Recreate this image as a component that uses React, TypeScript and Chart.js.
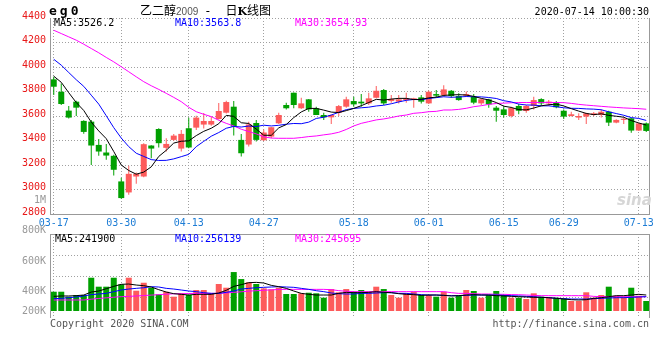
import React, { useEffect, useRef } from 'react';
import { Chart, registerables } from 'chart.js';

Chart.register(...registerables);

const DATES = [
  '03-17','03-18','03-19','03-20','03-23','03-24','03-25','03-26','03-27',
  '03-30','03-31','04-01','04-02','04-03',
  '04-07','04-08','04-09','04-10',
  '04-13','04-14','04-15','04-16','04-17',
  '04-20','04-21','04-22','04-23','04-24',
  '04-27','04-28','04-29','04-30',
  '05-06','05-07','05-08',
  '05-11','05-12','05-13','05-14','05-15',
  '05-18','05-19','05-20','05-21','05-22',
  '05-25','05-26','05-27','05-28','05-29',
  '06-01','06-02','06-03','06-04','06-05',
  '06-08','06-09','06-10','06-11','06-12',
  '06-15','06-16','06-17','06-18','06-19',
  '06-22','06-23','06-24',
  '06-29','06-30','07-01','07-02','07-03',
  '07-06','07-07','07-08','07-09','07-10',
  '07-13','07-14',
];
const TICK_DATES = ['03-17','03-30','04-13','04-27','05-18','06-01','06-15','06-29','07-13'];

const OPEN = [3899,3798,3644,3717,3560,3554,3364,3302,3275,3066, 2976,3106,3106,3359,3494,3340,3405,3334,3500,3505, 3530,3530,3575,3627,3676,3405,3367,3543,3402,3432, 3540,3690,3790,3663,3736,3663,3608,3589,3627,3676, 3722,3717,3703,3749,3812,3722,3717,3730,3736,3752, 3703,3779,3771,3806,3763,3766,3757,3703,3736,3668, 3654,3600,3682,3641,3682,3738,3703,3709,3643,3600, 3587,3595,3608,3608,3635,3546,3568,3581,3481,3540];
const HIGH = [3920,3866,3682,3725,3565,3568,3413,3372,3283,3096, 3193,3139,3378,3362,3500,3418,3454,3486,3585,3603, 3625,3595,3707,3725,3722,3454,3554,3568,3490,3510, 3627,3709,3792,3750,3738,3675,3627,3612,3690,3757, 3757,3779,3790,3844,3820,3771,3771,3790,3749,3771, 3806,3812,3852,3812,3785,3801,3779,3740,3740,3682, 3679,3676,3700,3690,3757,3744,3730,3722,3654,3635, 3622,3627,3633,3654,3643,3573,3587,3583,3545,3546];
const LOW = [3771,3690,3580,3600,3456,3201,3275,3242,3115,2925, 2957,3047,3100,3255,3343,3310,3397,3310,3337,3486, 3497,3520,3570,3620,3440,3269,3351,3391,3395,3418, 3535,3654,3663,3658,3635,3608,3567,3535,3600,3668, 3676,3676,3690,3744,3690,3709,3703,3709,3668,3703, 3698,3752,3757,3749,3725,3757,3695,3690,3668,3554, 3587,3587,3614,3627,3654,3685,3682,3663,3576,3595, 3567,3535,3600,3587,3519,3540,3535,3464,3478,3470];
const CLOSE = [3839,3698,3587,3668,3470,3359,3310,3277,3161,2930, 3128,3128,3370,3334,3378,3372,3440,3454,3343,3587, 3559,3559,3641,3714,3513,3296,3531,3405,3465,3508, 3608,3663,3690,3703,3654,3608,3589,3608,3681,3736, 3695,3703,3744,3806,3703,3738,3736,3744,3744,3717, 3798,3766,3817,3763,3730,3779,3709,3736,3695,3643, 3608,3665,3643,3682,3730,3703,3717,3671,3595,3614, 3600,3622,3622,3635,3546,3568,3578,3481,3540,3478];

const MA5 = [3925,3875,3790,3710,3645,3550,3478,3415,3310,3200, 3155,3125,3142,3185,3270,3320,3379,3394,3397,3440, 3475,3500,3537,3605,3597,3545,3539,3493,3443,3442, 3503,3530,3587,3633,3662,3662,3648,3632,3628,3644, 3662,3684,3710,3736,3730,3738,3744,3744,3734,3736, 3748,3754,3768,3772,3774,3771,3760,3744,3731,3710, 3680,3670,3652,3650,3665,3683,3692,3697,3682,3660, 3640,3621,3611,3618,3605,3598,3590,3563,3543,3526];
const MA10 = [4063,4015,3955,3896,3842,3770,3697,3602,3505,3420, 3350,3296,3270,3244,3237,3238,3250,3268,3287,3350, 3393,3435,3465,3500,3515,3510,3518,3514,3525,3519, 3524,3533,3539,3537,3550,3580,3590,3608,3630,3652, 3662,3667,3672,3682,3688,3700,3715,3728,3735,3733, 3743,3750,3757,3753,3755,3759,3757,3756,3751,3743, 3725,3715,3697,3690,3689,3683,3683,3676,3667,3663, 3662,3658,3656,3651,3634,3620,3606,3587,3580,3564];
const MA30 = [4300,4273,4246,4219,4186,4151,4116,4078,4042,4002, 3961,3920,3880,3847,3817,3785,3752,3717,3671,3635, 3614,3595,3565,3540,3519,3492,3473,3454,3430,3420, 3418,3418,3418,3424,3432,3437,3446,3454,3467,3490, 3519,3540,3554,3568,3576,3587,3600,3608,3622,3627, 3635,3638,3649,3649,3654,3663,3676,3684,3695,3702, 3705,3708,3710,3710,3710,3711,3711,3710,3709,3703, 3695,3689,3684,3679,3674,3670,3666,3663,3660,3655];

// volumes in thousands of lots
const VOLUME = [303,303,225,251,251,523,382,382,523,419, 523,319,444,366,262,303,225,278,251,330, 330,278,424,366,612,502,451,424,356,341, 366,267,267,278,287,278,209,345,294,345, 303,330,303,382,345,251,209,278,303,251, 251,225,303,209,240,330,314,209,251,314, 251,209,209,188,278,225,209,209,199,157, 157,294,209,251,382,240,225,366,240,157];
const VOL_MA5 = [230,236,236,241,251,298,314,350,387,419, 424,408,398,377,335,298,272,262,251,262, 262,262,283,325,387,414,445,450,440,403, 382,356,314,277,262,251,251,251,277,293, 288,288,293,304,293,288,272,262,257,246, 251,251,246,236,241,251,257,251,251,241, 236,230,225,220,215,215,209,199,188,178, 173,178,199,209,225,241,241,251,262,251];
const VOL_MA10 = [194,199,209,220,236,257,267,277,304,330, 345,356,366,382,377,356,345,330,314,304, 288,277,277,293,314,345,356,366,372,377, 382,377,372,356,340,319,304,283,272,267, 267,277,277,283,288,288,277,277,267,257, 251,251,246,241,241,246,251,251,251,251, 246,241,236,230,225,215,209,199,194,188, 188,188,194,199,204,209,209,215,220,225];
const VOL_MA30 = [173,173,173,173,173,186,197,207,217,225, 230,236,243,250,257,264,270,272,275,277, 277,277,277,284,293,302,312,319,326,332, 338,340,340,340,340,340,340,335,320,310, 304,304,304,304,304,304,304,304,304,304, 304,304,304,288,277,277,272,267,267,262, 262,258,256,251,246,241,241,241,241,241, 241,241,230,225,225,225,225,225,225,225];

const PRICE_TICKS = [2800, 3000, 3200, 3400, 3600, 3800, 4000, 4200, 4400];
const VOL_LABELS = ['200K', '400K', '600K', '800K', '1M'];
const VOL_LABEL_VALUES = [0, 314, 786, 1273, 1744];
const VOL_GRID_VALUES = [220, 550, 872];

const UP = '#fd5b5b';
const DOWN = '#00a000';
const GRID = '#a0a0a0';
const FRAME = '#999999';
const MONO = '"DejaVu Sans Mono", monospace';
const CJK = '"Noto Sans CJK SC", sans-serif';

const framePlugin = {
  id: 'frame',
  afterDraw(chart: any, _args: any, opts: any) {
    const { ctx, chartArea: a } = chart;
    const sides: string[] = opts.sides || [];
    ctx.save();
    ctx.strokeStyle = FRAME;
    ctx.lineWidth = 1;
    ctx.setLineDash([]);
    ctx.beginPath();
    const L = Math.round(a.left) + 0.5;
    const R = Math.round(a.right) - 0.5;
    const T = Math.round(a.top) + 0.5;
    const B = Math.round(a.bottom) + 0.5;
    if (sides.includes('left')) { ctx.moveTo(L, T - 0.5); ctx.lineTo(L, B); }
    if (sides.includes('right')) { ctx.moveTo(R, T - 0.5); ctx.lineTo(R, B); }
    if (sides.includes('top')) { ctx.moveTo(L, T); ctx.lineTo(R, T); }
    if (sides.includes('bottom')) { ctx.moveTo(L, B); ctx.lineTo(R + 0.5, B); }
    ctx.stroke();
    ctx.restore();
  },
};

const lineDs = (data: number[], color: string, order: number) => ({
  type: 'line' as const,
  data,
  borderColor: color,
  borderWidth: 1,
  pointRadius: 0,
  fill: false,
  tension: 0,
  order,
});

const filterDateTicks = (s: any) => {
  s.ticks = s.ticks.filter((t: any) => TICK_DATES.includes(DATES[t.value]));
};

export default function App() {
  const mainRef = useRef<HTMLCanvasElement>(null);
  const volRef = useRef<HTMLCanvasElement>(null);

  useEffect(() => {
    const colors = CLOSE.map((c, i) => (c >= OPEN[i] ? UP : DOWN));
    const main = new Chart(mainRef.current as HTMLCanvasElement, {
      type: 'bar',
      data: {
        labels: DATES,
        datasets: [
          lineDs(MA5, '#000000', 0),
          lineDs(MA10, '#0000ff', 1),
          lineDs(MA30, '#ff00ff', 2),
          {
            type: 'bar',
            data: OPEN.map((o, i) => [o, CLOSE[i]]),
            backgroundColor: colors,
            barThickness: 6,
            minBarLength: 1,
            grouped: false,
            inflateAmount: 0,
            order: 3,
          } as any,
          {
            type: 'bar',
            data: LOW.map((l, i) => [l, HIGH[i]]),
            backgroundColor: colors,
            barThickness: 1,
            grouped: false,
            inflateAmount: 0,
            order: 4,
          } as any,
        ],
      },
      options: {
        animation: false,
        responsive: false,
        events: [],
        layout: { padding: { top: 18, right: 10, left: 0, bottom: 0 } },
        plugins: {
          legend: { display: false },
          tooltip: { enabled: false },
          frame: { sides: ['left', 'right', 'bottom'] },
        } as any,
        scales: {
          x: {
            type: 'category',
            offset: true,
            grid: { offset: false, color: GRID, drawTicks: false },
            border: { display: false, dash: [1, 2] },
            ticks: { autoSkip: false, maxRotation: 0, color: '#1c7cd5', font: { family: MONO, size: 10 }, padding: 3 },
            afterBuildTicks: filterDateTicks,
            afterFit: (s: any) => { s.height = 22; s.paddingLeft = 0; s.paddingRight = 0; },
          },
          y: {
            type: 'linear',
            min: 2800,
            max: 4400,
            grid: { color: GRID, drawTicks: false },
            border: { display: false, dash: [1, 2] },
            ticks: {
              color: '#e81818',
              font: { family: MONO, size: 10 },
              padding: 4,
              labelOffset: -2,
              autoSkip: false,
              callback: (v: any) => String(v),
            },
            afterBuildTicks: (s: any) => { s.ticks = PRICE_TICKS.map((v) => ({ value: v })); },
            afterFit: (s: any) => { s.width = 50; s.paddingTop = 0; s.paddingBottom = 0; },
          },
        },
      } as any,
      plugins: [framePlugin],
    });

    const vol = new Chart(volRef.current as HTMLCanvasElement, {
      type: 'bar',
      data: {
        labels: DATES,
        datasets: [
          lineDs(VOL_MA5, '#000000', 0),
          lineDs(VOL_MA10, '#0000ff', 1),
          lineDs(VOL_MA30, '#ff00ff', 2),
          {
            type: 'bar',
            data: VOLUME,
            backgroundColor: colors,
            barThickness: 6,
            grouped: false,
            inflateAmount: 0,
            order: 3,
          } as any,
        ],
      },
      options: {
        animation: false,
        responsive: false,
        events: [],
        layout: { padding: { top: 44, right: 10, left: 0, bottom: 0 } },
        plugins: {
          legend: { display: false },
          tooltip: { enabled: false },
          frame: { sides: ['left', 'right', 'top', 'bottom'] },
        } as any,
        scales: {
          x: {
            type: 'category',
            offset: true,
            grid: { offset: false, color: GRID, drawTicks: false },
            border: { display: false, dash: [1, 2] },
            ticks: { display: false, autoSkip: false },
            afterBuildTicks: filterDateTicks,
            afterFit: (s: any) => { s.height = 0; s.paddingLeft = 0; s.paddingRight = 0; },
          },
          y: {
            type: 'linear',
            position: 'left',
            weight: 0,
            min: -110,
            max: 1210,
            grid: { color: GRID, drawTicks: false },
            border: { display: false, dash: [1, 2] },
            ticks: { display: false },
            afterBuildTicks: (s: any) => { s.ticks = VOL_GRID_VALUES.map((v) => ({ value: v })); },
            afterFit: (s: any) => { s.width = 0; s.paddingTop = 0; s.paddingBottom = 0; },
          },
          yl: {
            type: 'linear',
            position: 'left',
            weight: 1,
            min: -110,
            max: 1210,
            grid: { display: false, drawTicks: false },
            border: { display: false },
            ticks: {
              color: '#999999',
              font: { family: MONO, size: 10 },
              padding: 4,
              autoSkip: false,
              callback: (_v: any, i: number) => VOL_LABELS[i],
            },
            afterBuildTicks: (s: any) => { s.ticks = VOL_LABEL_VALUES.map((v) => ({ value: v })); },
            afterFit: (s: any) => { s.width = 50; s.paddingTop = 0; s.paddingBottom = 0; },
          },
        },
      } as any,
      plugins: [framePlugin],
    });

    return () => {
      main.destroy();
      vol.destroy();
    };
  }, []);

  const t = (style: React.CSSProperties): React.CSSProperties => ({
    position: 'absolute',
    whiteSpace: 'nowrap',
    fontFamily: MONO,
    fontSize: 10,
    lineHeight: '12px',
    color: '#000',
    ...style,
  });

  return (
    <div style={{ position: 'fixed', left: 0, top: 0, width: 660, height: 360, background: '#fff', overflow: 'hidden' }}>
      <canvas ref={mainRef} width={660} height={236} style={{ position: 'absolute', left: 0, top: 0, width: 660, height: 236 }} />
      <canvas ref={volRef} width={660} height={128} style={{ position: 'absolute', left: 0, top: 190, width: 660, height: 128 }} />

      <div style={t({ left: 49, top: 4, fontSize: 13, fontWeight: 'bold', letterSpacing: 3, lineHeight: '14px' })}>eg0</div>
      <div style={t({ left: 140, top: 2, lineHeight: '16px', fontFamily: CJK, fontSize: 12 })}>
        <span>乙二醇</span>
        <span style={{ fontFamily: '"Liberation Sans", sans-serif', fontSize: 10, color: '#555' }}>2009</span>
        <span style={{ fontFamily: MONO, fontSize: 12, marginLeft: 6, marginRight: 14 }}>-</span>
        <span>日</span><span style={{ fontFamily: '"DejaVu Serif", serif', fontWeight: 'bold', fontSize: 11 }}>K</span><span>线图</span>
      </div>
      <div style={t({ right: 11, top: 6 })}>2020-07-14 10:00:30</div>

      <div style={t({ left: 54, top: 17 })}>MA5:3526.2</div>
      <div style={t({ left: 175, top: 17, color: '#0000ff' })}>MA10:3563.8</div>
      <div style={t({ left: 295, top: 17, color: '#ff00ff' })}>MA30:3654.93</div>

      <div style={t({ left: 55, top: 233 })}>MA5:241900</div>
      <div style={t({ left: 175, top: 233, color: '#0000ff' })}>MA10:256139</div>
      <div style={t({ left: 295, top: 233, color: '#ff00ff' })}>MA30:245695</div>

      <div style={t({ left: 617, top: 191, fontFamily: '"DejaVu Sans", sans-serif', fontSize: 15, fontWeight: 'bold', fontStyle: 'italic', color: '#d6d6d6', lineHeight: '18px' })}>sina</div>

      <div style={t({ left: 50, top: 318, color: '#555' })}>Copyright 2020 SINA.COM</div>
      <div style={t({ right: 11, top: 318, color: '#555' })}>http://finance.sina.com.cn</div>
    </div>
  );
}
